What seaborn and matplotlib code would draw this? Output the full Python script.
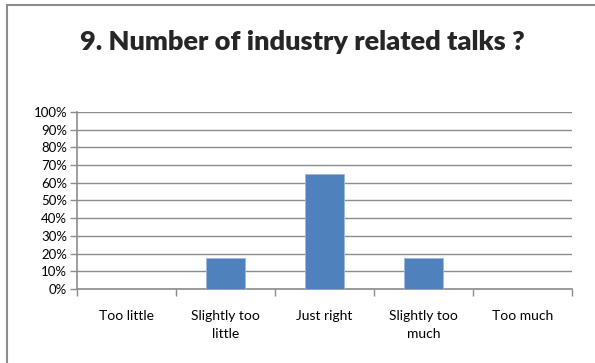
import matplotlib
matplotlib.use("Agg")
import matplotlib.pyplot as plt
from matplotlib.lines import Line2D
from matplotlib.ticker import FuncFormatter, MultipleLocator, FixedLocator
import seaborn as sns
import pandas as pd
import numpy as np

# survey answers (share of respondents)
categories = ["Too little", "Slightly too\nlittle", "Just right", "Slightly too\nmuch", "Too much"]
shares = [0.0, 3 / 17, 11 / 17, 3 / 17, 0.0]
title = "9. Number of industry related talks ?"

sns.set_theme(style="white")
plt.rcParams['font.family'] = ['Lato', 'DejaVu Sans']

df = pd.DataFrame({"answer": categories, "share": shares})

fig = plt.figure(figsize=(5.95, 3.63), dpi=100)
ax = fig.add_axes([0.1294, 0.2039, 0.9613 - 0.1294, 0.6915 - 0.2039])

sns.barplot(data=df, x="answer", y="share", color="#4F81BD", width=0.4,
            saturation=1, ax=ax, zorder=3, edgecolor="#9DB9DD", linewidth=0.6)

ax.set_xlim(-0.5, len(categories) - 0.5)
ax.set_ylim(0, 1)
ax.yaxis.set_major_locator(MultipleLocator(0.1))
ax.yaxis.set_major_formatter(FuncFormatter(lambda v, p: f"{v*100:.0f}%"))
ax.yaxis.grid(True, color="#8C8C8C", linewidth=1.0, zorder=0)
ax.set_xlabel("")
ax.set_ylabel("")

# ticks between categories like the spreadsheet chart
ax.xaxis.set_minor_locator(FixedLocator(np.arange(-0.5, len(categories), 1.0)))
ax.tick_params(axis="x", which="major", length=0, pad=15, labelsize=10, colors="black")
ax.tick_params(axis="x", which="minor", bottom=True, length=5, width=1, color="#8C8C8C")
ax.tick_params(axis="y", left=True, length=5, width=1, color="#8C8C8C", labelsize=9.5,
               labelcolor="black", pad=2)
for lbl in ax.get_xticklabels():
    lbl.set_linespacing(1.6)

for s in ["top", "right"]:
    ax.spines[s].set_visible(False)
for s in ["left", "bottom"]:
    ax.spines[s].set_color("#8C8C8C")
    ax.spines[s].set_linewidth(1.2)

fig.text(0.509, 0.885, title, ha="center", va="center", fontsize=19.5, fontweight="heavy")

# chart border (left and top edges visible)
fig.add_artist(Line2D([7 / 595, 7 / 595], [0, 1 - 5 / 363], color="#8C8C8C", linewidth=1.5))
fig.add_artist(Line2D([7 / 595, 1], [1 - 5 / 363, 1 - 5 / 363], color="#8C8C8C", linewidth=1.5))

fig.savefig("out.png", dpi=100)
